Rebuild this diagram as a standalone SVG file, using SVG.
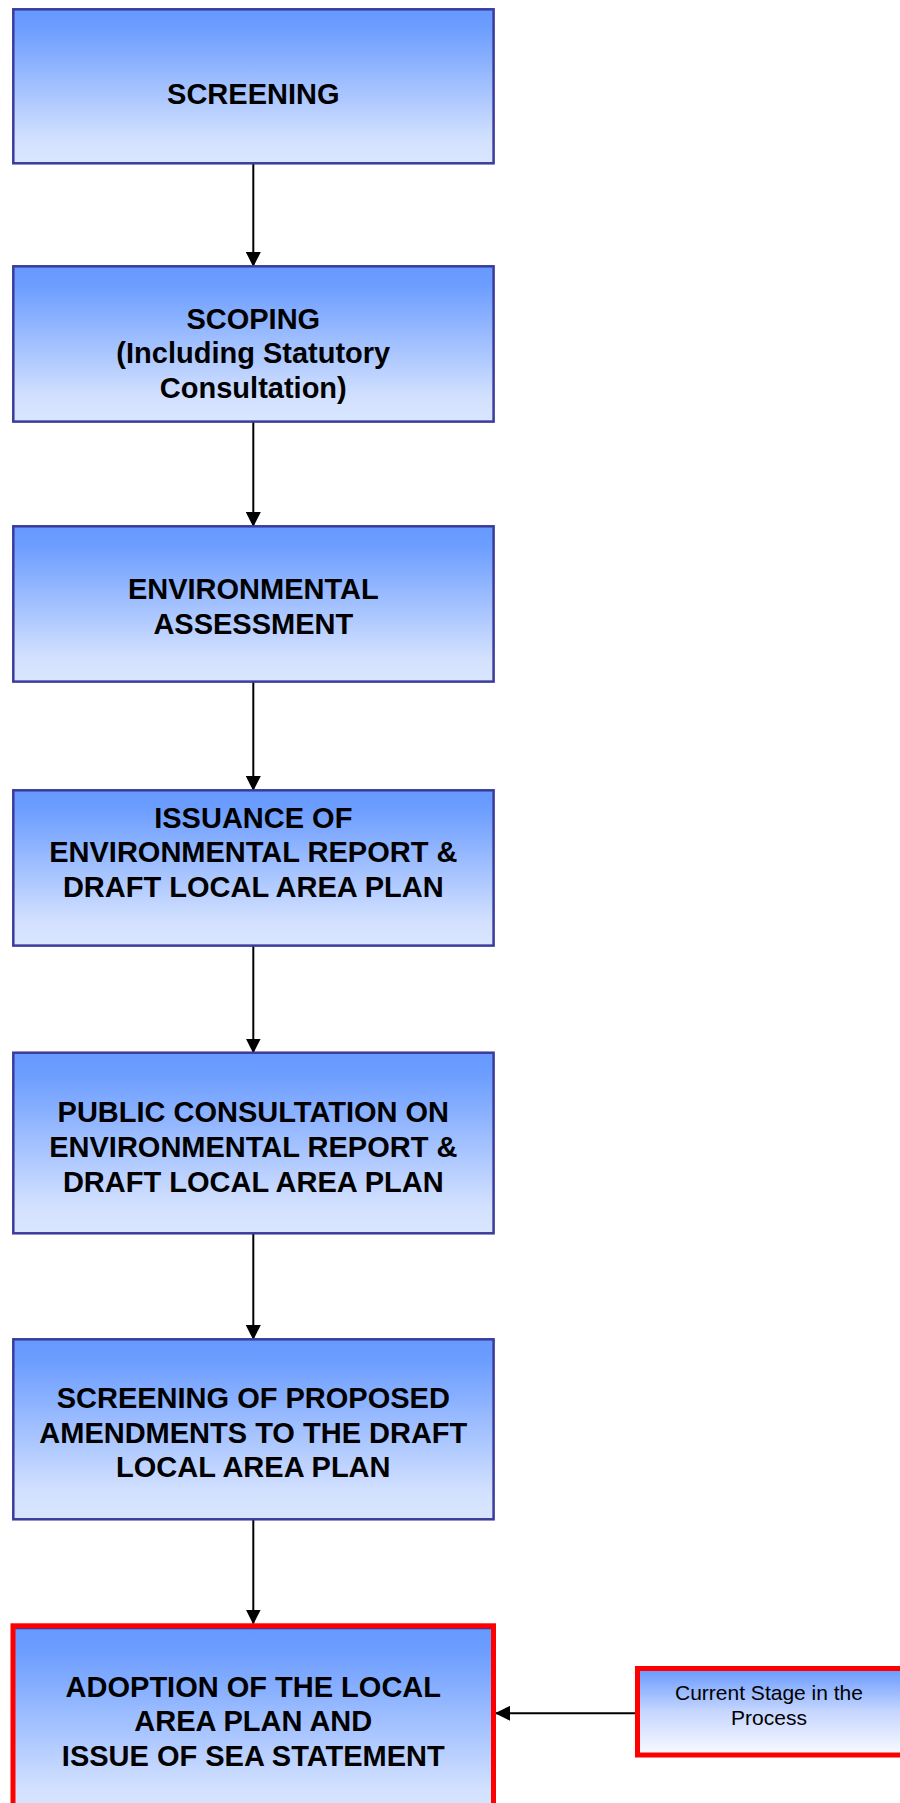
<svg xmlns="http://www.w3.org/2000/svg" width="900" height="1803" viewBox="0 0 900 1803">
<style>
.box{stroke:#3b3b9c;stroke-width:2.5;fill:url(#g)}
.cur{stroke:#ff0000;stroke-width:5}
.t{font-family:"Liberation Sans",Arial,sans-serif;font-weight:bold;font-size:29px;fill:#000;text-anchor:middle}
.s{font-family:"Liberation Sans",Arial,sans-serif;font-size:21px;fill:#000;text-anchor:middle}
.c{stroke:#000;stroke-width:2;fill:none}
</style>
<defs>
<linearGradient id="g" x1="0" y1="0" x2="0" y2="1">
<stop offset="0" stop-color="#6699ff"/>
<stop offset="0.12" stop-color="#6c9dff"/>
<stop offset="0.85" stop-color="#d3e1ff"/>
<stop offset="1" stop-color="#d9e6ff"/>
</linearGradient>
<linearGradient id="g2" x1="0" y1="0" x2="0" y2="1">
<stop offset="0" stop-color="#6699ff"/>
<stop offset="0.5" stop-color="#c6d6ff"/>
<stop offset="1" stop-color="#fafbff"/>
</linearGradient>
<marker id="ah" markerWidth="15" markerHeight="15" viewBox="0 0 15 15" refX="14" refY="7.5" orient="auto" markerUnits="userSpaceOnUse">
<path d="M0,0 L15,7.5 L0,15 Z" fill="#000"/>
</marker>
</defs>
<g id="connectors">
<line class="c" x1="253.3" y1="164" x2="253.3" y2="266" marker-end="url(#ah)"/>
<line class="c" x1="253.3" y1="422" x2="253.3" y2="526" marker-end="url(#ah)"/>
<line class="c" x1="253.3" y1="682" x2="253.3" y2="790" marker-end="url(#ah)"/>
<line class="c" x1="253.3" y1="946" x2="253.3" y2="1052.5" marker-end="url(#ah)"/>
<line class="c" x1="253.3" y1="1233.5" x2="253.3" y2="1339" marker-end="url(#ah)"/>
<line class="c" x1="253.3" y1="1519.5" x2="253.3" y2="1623.5" marker-end="url(#ah)"/>
<line class="c" x1="635" y1="1713.3" x2="496" y2="1713.3" marker-end="url(#ah)"/>
</g>
<g id="n1">
<rect class="box" x="13.3" y="9.3" width="480.3" height="154"/>
<text class="t" x="253.3" y="104.3">SCREENING</text>
</g>
<g id="n2">
<rect class="box" x="13.3" y="266.3" width="480.3" height="155.3"/>
<text class="t" x="253.3" y="329">SCOPING</text>
<text class="t" x="253.3" y="363.3">(Including Statutory</text>
<text class="t" x="253.3" y="398.3">Consultation)</text>
</g>
<g id="n3">
<rect class="box" x="13.3" y="526.3" width="480.3" height="155.3"/>
<text class="t" x="253.3" y="599.3">ENVIRONMENTAL</text>
<text class="t" x="253.3" y="634">ASSESSMENT</text>
</g>
<g id="n4">
<rect class="box" x="13.3" y="790.3" width="480.3" height="155.3"/>
<text class="t" x="253.3" y="828.3">ISSUANCE OF</text>
<text class="t" x="253.3" y="862">ENVIRONMENTAL REPORT &amp;</text>
<text class="t" x="253.3" y="896.7">DRAFT LOCAL AREA PLAN</text>
</g>
<g id="n5">
<rect class="box" x="13.3" y="1052.7" width="480.3" height="180.6"/>
<text class="t" x="253.3" y="1122.3">PUBLIC CONSULTATION ON</text>
<text class="t" x="253.3" y="1156.7">ENVIRONMENTAL REPORT &amp;</text>
<text class="t" x="253.3" y="1191.7">DRAFT LOCAL AREA PLAN</text>
</g>
<g id="n6">
<rect class="box" x="13.3" y="1339.3" width="480.3" height="180"/>
<text class="t" x="253.3" y="1408.3">SCREENING OF PROPOSED</text>
<text class="t" x="253.3" y="1442.7">AMENDMENTS TO THE DRAFT</text>
<text class="t" x="253.3" y="1476.7">LOCAL AREA PLAN</text>
</g>
<g id="n7">
<rect class="box" x="13.3" y="1628" width="480.3" height="190"/>
<rect class="cur" x="13" y="1625.8" width="480.5" height="200" fill="none"/>
<text class="t" x="253.3" y="1696.7">ADOPTION OF THE LOCAL</text>
<text class="t" x="253.3" y="1730.7">AREA PLAN AND</text>
<text class="t" x="253.3" y="1765.7">ISSUE OF SEA STATEMENT</text>
</g>
<g id="legend">
<rect class="cur" x="637.5" y="1668.5" width="280" height="86.5" fill="url(#g2)"/>
<text class="s" x="769" y="1700">Current Stage in the</text>
<text class="s" x="769" y="1725">Process</text>
</g>
</svg>
